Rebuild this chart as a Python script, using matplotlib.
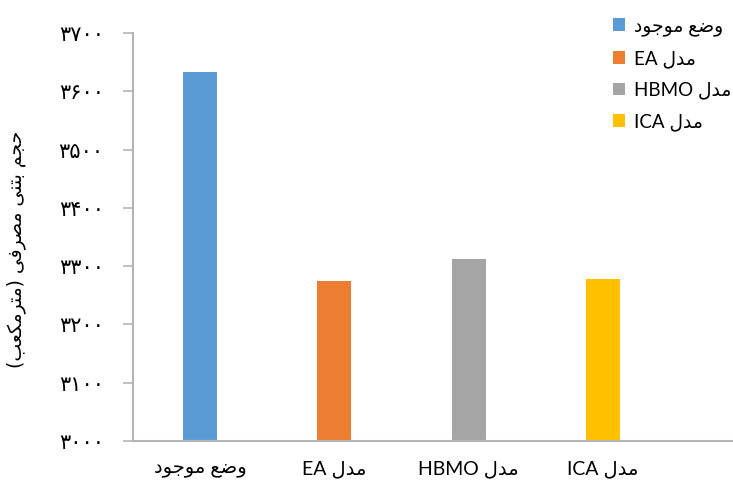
import matplotlib
matplotlib.use("Agg")
import matplotlib.pyplot as plt
from matplotlib.patches import Patch

# ---- data ----
categories = ["وضع موجود", "مدل EA", "مدل HBMO", "مدل ICA"]
values = [3633, 3274, 3312, 3278]
colors = ["#5B9BD5", "#ED7D31", "#A5A5A5", "#FFC000"]
yticks = [3000, 3100, 3200, 3300, 3400, 3500, 3600, 3700]
ylabel = "حجم بتنی مصرفی (مترمکعب)"

# ---- minimal Arabic/Persian shaping (presentation forms) ----
# letter: (isolated, final, initial, medial); None for non-joining-forward letters
FORMS = {
    "ا": ("\uFE8D", "\uFE8E", None, None),
    "ب": ("\uFE8F", "\uFE90", "\uFE91", "\uFE92"),
    "ت": ("\uFE95", "\uFE96", "\uFE97", "\uFE98"),
    "ج": ("\uFE9D", "\uFE9E", "\uFE9F", "\uFEA0"),
    "ح": ("\uFEA1", "\uFEA2", "\uFEA3", "\uFEA4"),
    "د": ("\uFEA9", "\uFEAA", None, None),
    "ر": ("\uFEAD", "\uFEAE", None, None),
    "ص": ("\uFEB9", "\uFEBA", "\uFEBB", "\uFEBC"),
    "ض": ("\uFEBD", "\uFEBE", "\uFEBF", "\uFEC0"),
    "ع": ("\uFEC9", "\uFECA", "\uFECB", "\uFECC"),
    "ف": ("\uFED1", "\uFED2", "\uFED3", "\uFED4"),
    "ک": ("\uFED9", "\uFEDA", "\uFEDB", "\uFEDC"),
    "ل": ("\uFEDD", "\uFEDE", "\uFEDF", "\uFEE0"),
    "م": ("\uFEE1", "\uFEE2", "\uFEE3", "\uFEE4"),
    "ن": ("\uFEE5", "\uFEE6", "\uFEE7", "\uFEE8"),
    "و": ("\uFEED", "\uFEEE", None, None),
    "ی": ("\uFEEF", "\uFEF0", "\uFEF3", "\uFEF4"),
}


def dual(ch):
    return ch in FORMS and FORMS[ch][2] is not None


def shape_rtl(text):
    out = []
    n = len(text)
    for i, ch in enumerate(text):
        if ch not in FORMS:
            out.append(ch)
            continue
        prev_join = i > 0 and dual(text[i - 1])
        next_join = dual(ch) and i + 1 < n and text[i + 1] in FORMS
        iso, fin, ini, med = FORMS[ch]
        if prev_join and next_join:
            out.append(med)
        elif prev_join:
            out.append(fin)
        elif next_join:
            out.append(ini)
        else:
            out.append(iso)
    vis = "".join(reversed(out))
    return vis.translate(str.maketrans("()", ")("))


def visual(label):
    # Persian word(s) followed by a Latin code: Latin sits on the left
    parts = label.split(" ")
    if len(parts) == 2 and parts[1].isascii():
        return parts[1] + " " + shape_rtl(parts[0])
    return shape_rtl(label)


def fa_digits(v):
    return "".join(chr(0x06F0 + int(d)) for d in str(v))


plt.rcParams["font.family"] = ["Lato", "DejaVu Sans"]

fig = plt.figure(figsize=(7.33, 4.90), dpi=100)
ax = fig.add_axes([133 / 733, 49 / 490, 600 / 733, 408 / 490])

x = list(range(len(categories)))
ax.bar(x, values, width=0.254, color=colors, bottom=0)

ax.set_ylim(3000, 3700)
ax.set_xlim(-0.5, 3.97)
ax.set_yticks(yticks)
ax.set_yticklabels([fa_digits(t) for t in yticks], fontsize=15,
                   family=["DejaVu Sans"])
ax.set_xticks(x)
ax.set_xticklabels([visual(c) for c in categories], fontsize=14)

spine_color = "#B4B4B4"
for s in ["top", "right"]:
    ax.spines[s].set_visible(False)
for s in ["left", "bottom"]:
    ax.spines[s].set_color(spine_color)
    ax.spines[s].set_linewidth(1.5)
ax.tick_params(axis="y", length=7, width=1.2, color=spine_color, pad=14,
               labelcolor="black")
ax.tick_params(axis="x", length=0, pad=14, labelcolor="black")

ax.set_ylabel(shape_rtl(ylabel), fontsize=13.5, family=["DejaVu Sans"])
ax.yaxis.set_label_coords(-0.178, 0.47)

handles = [Patch(facecolor=c, edgecolor="none") for c in colors]
leg = fig.legend(handles, [visual(c) for c in categories],
                 loc="upper left", bbox_to_anchor=(600 / 733, 1 - 4 / 490),
                 frameon=False, fontsize=13.5, handlelength=0.65,
                 handleheight=0.65, handletextpad=0.45, labelspacing=0.75,
                 borderaxespad=0.3)

fig.savefig("out.png", dpi=100, facecolor="white")
